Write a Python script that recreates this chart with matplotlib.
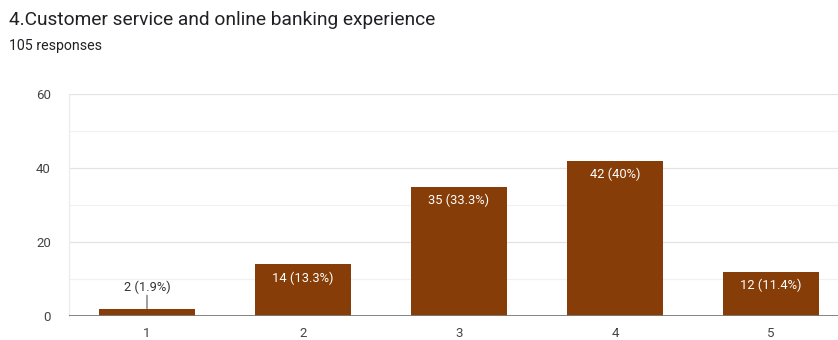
import matplotlib.pyplot as plt

plt.rcParams['font.family'] = ['Roboto', 'DejaVu Sans']

# Response counts per rating
ratings = ['1', '2', '3', '4', '5']
counts = [2, 14, 35, 42, 12]
total = 105
bar_labels = ['2 (1.9%)', '14 (13.3%)', '35 (33.3%)', '42 (40%)', '12 (11.4%)']

bar_color = '#863d07'

fig = plt.figure(figsize=(8.38, 3.40), dpi=100)
W, H = 838, 340
# plot area in pixels: x 69..849, y 94..316
ax = fig.add_axes([69 / W, 1 - 316 / H, 780 / W, (316 - 94) / H])

x = list(range(1, len(ratings) + 1))
ax.bar(x, counts, width=0.61, color=bar_color, zorder=3)

ax.set_xlim(0.5, 5.5)
ax.set_ylim(0, 60)

# gridlines: major every 20, fainter minor every 10
for y in [20, 40, 60]:
    ax.axhline(y, color='#e3e3e3', lw=0.9, zorder=1)
for y in [10, 30, 50]:
    ax.axhline(y, color='#f1f1f1', lw=0.9, zorder=1)
ax.axhline(0, color='#7a7a7a', lw=1.3, zorder=4)

for s in ['top', 'right', 'bottom']:
    ax.spines[s].set_visible(False)
ax.spines['left'].set_color('#ececec')
ax.spines['left'].set_linewidth(0.9)

ax.set_yticks([0, 20, 40, 60])
ax.set_xticks(x)
ax.set_xticklabels(ratings)
ax.tick_params(axis='both', length=0, labelsize=9.5, labelcolor='#444444')
ax.tick_params(axis='y', pad=13)
ax.tick_params(axis='x', pad=8)

# value labels: inside the bar when tall enough, otherwise above with a leader line
for xi, c, lab in zip(x, counts, bar_labels):
    if c >= 8:
        ax.annotate(lab, (xi, c), xytext=(0, -5), textcoords='offset points',
                    ha='center', va='top', color='white', fontsize=9.3, zorder=5)
    else:
        ax.annotate('', (xi, c), xytext=(xi, c + 3.6),
                    arrowprops=dict(arrowstyle='-', color='#555555', lw=0.8,
                                    shrinkA=0, shrinkB=0), zorder=5)
        ax.annotate(lab, (xi, c + 3.6), xytext=(0, 1), textcoords='offset points',
                    ha='center', va='bottom', color='#333333', fontsize=9.3, zorder=5)

fig.text(9 / W, 1 - 20 / H, '4.Customer service and online banking experience',
         fontsize=13.8, color='#202124', va='center', ha='left')
fig.text(9 / W, 1 - 46 / H, '105 responses', fontsize=10.2, color='#202124',
         va='center', ha='left')

fig.savefig('out.png', dpi=100)
